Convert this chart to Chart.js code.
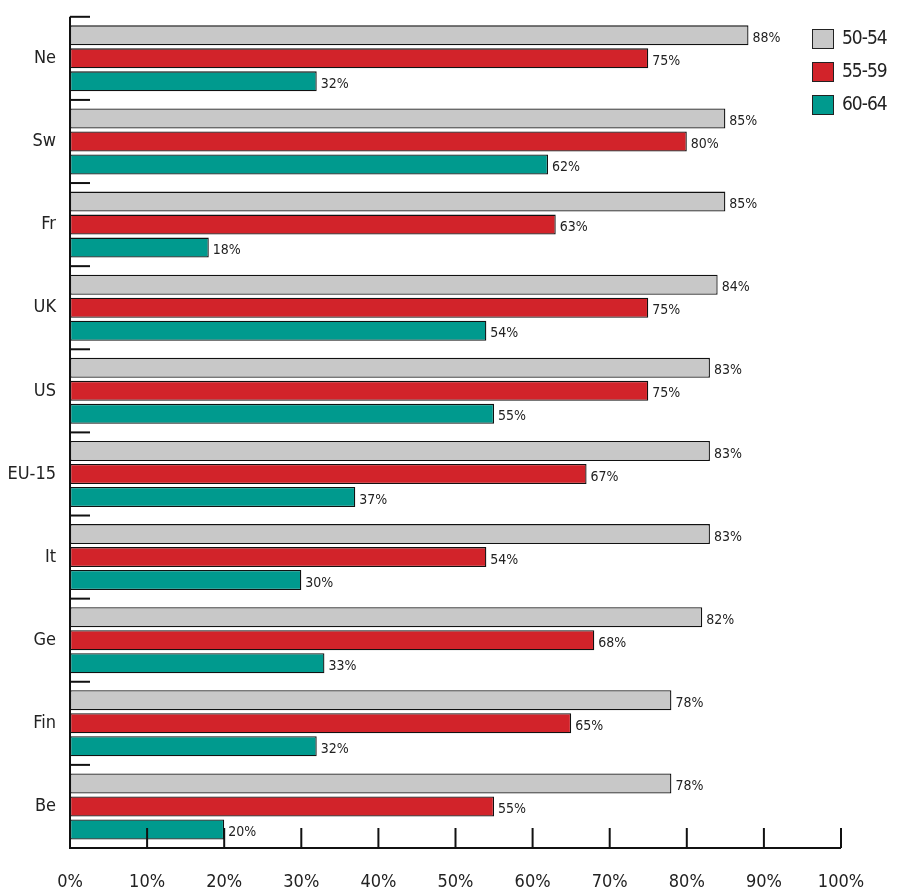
<!DOCTYPE html>
<html><head><meta charset="utf-8">
<script src="https://cdn.jsdelivr.net/npm/chart.js@4"></script>
<style>
body{margin:0;background:#fff;}
#wrap{position:relative;width:900px;height:891px;}
.lg{position:absolute;left:812px;font:19px "DejaVu Sans Condensed",sans-serif;font-stretch:condensed;color:#222;letter-spacing:-1px;}
.lg span{display:inline-block;width:20px;height:18px;border:1px solid #222;vertical-align:middle;margin-right:8px;}
</style></head><body>
<div id="wrap"><canvas id="c" width="900" height="891"></canvas>
<div class="lg" style="top:26px"><span style="background:#c8c8c8"></span>50-54</div>
<div class="lg" style="top:59px"><span style="background:#d2232a"></span>55-59</div>
<div class="lg" style="top:92px"><span style="background:#009a8e"></span>60-64</div>
</div>
<script>
const categories=["Ne","Sw","Fr","UK","US","EU-15","It","Ge","Fin","Be"];
const s5054=[88,85,85,84,83,83,83,82,78,78];
const s5559=[75,80,63,75,75,67,54,68,65,55];
const s6064=[32,62,18,54,55,37,30,33,32,20];
const FONT='"DejaVu Sans Condensed",sans-serif';
const axesPlugin={id:'axes',afterDatasetsDraw(ch){
 const {ctx,chartArea:a,scales:{x,y}}=ch;
 ctx.save();ctx.strokeStyle='#111';ctx.lineWidth=2;
 ctx.beginPath();ctx.moveTo(a.left,a.top);ctx.lineTo(a.left,a.bottom);ctx.lineTo(a.right,a.bottom);ctx.stroke();
 for(let v=10;v<=100;v+=10){const px=x.getPixelForValue(v);ctx.beginPath();ctx.moveTo(px,a.bottom);ctx.lineTo(px,a.bottom-20);ctx.stroke();}
 const n=categories.length;
 for(let i=0;i<=n;i++){const py=a.top+(a.bottom-a.top)*i/n;ctx.beginPath();ctx.moveTo(a.left,py);ctx.lineTo(a.left+20,py);ctx.stroke();}
 ctx.fillStyle='#222';ctx.font='14px '+FONT;ctx.textBaseline='middle';ctx.textAlign='left';
 ch.data.datasets.forEach((ds,di)=>{ch.getDatasetMeta(di).data.forEach((b,i)=>{ctx.fillText(ds.data[i]+'%',b.x+4,b.y+3);});});
 ctx.restore();}};
new Chart(document.getElementById('c'),{type:'bar',
 data:{labels:categories,datasets:[
  {data:s5054,backgroundColor:'#c8c8c8'},
  {data:s5559,backgroundColor:'#d2232a'},
  {data:s6064,backgroundColor:'#009a8e'}]},
 options:{indexAxis:'y',responsive:false,animation:false,
  layout:{padding:{top:5,right:59,left:0,bottom:0}},
  datasets:{bar:{borderColor:'#111',borderWidth:1.3,borderSkipped:false,barPercentage:0.87,categoryPercentage:0.83}},
  plugins:{legend:{display:false},tooltip:{enabled:false}},
  scales:{
   x:{min:0,max:100,grid:{display:false},border:{display:false},
      ticks:{stepSize:10,callback:v=>v+'%',color:'#222',font:{family:FONT,size:18},padding:16},
      afterFit(s){s.height=43;}},
   y:{grid:{display:false},border:{display:false},
      ticks:{color:'#222',font:{family:FONT,size:18},padding:6},
      afterFit(s){s.width=70;}}}},
 plugins:[axesPlugin]});
</script></body></html>
